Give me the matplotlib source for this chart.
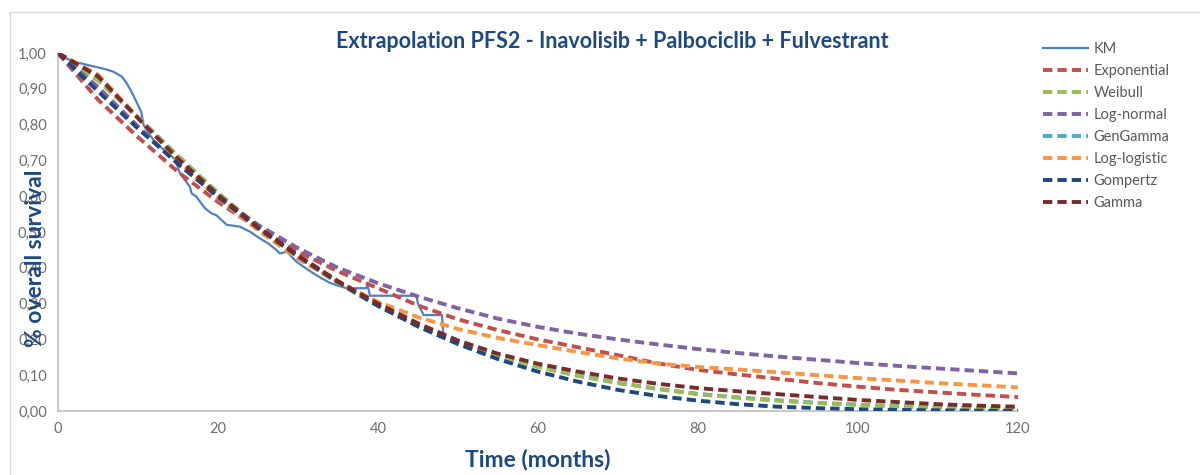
import matplotlib.pyplot as plt
from matplotlib.lines import Line2D
from matplotlib.ticker import FuncFormatter

plt.rcParams['font.family'] = ['Lato', 'DejaVu Sans']

# Kaplan-Meier estimate (months, survival)
km_t = [0, 0.5, 2, 3.8, 4.6, 5.9, 6.9, 8.0, 8.6, 9.2, 9.8, 10.4, 10.7, 11.5, 12.1,
        13.0, 14.0, 14.6, 15.25, 16.5, 16.7, 17.3, 17.75, 18.4, 19.2, 19.8, 21.1,
        22.75, 24, 25.25, 26.3, 27.3, 27.75, 28.6, 29.8, 30.7, 31.9, 33, 34, 35,
        36.1, 37.3, 38.5, 38.7, 39.0, 44.8, 45.0, 45.7, 48.0, 48.2]
km_s = [1.0, 0.99, 0.976, 0.966, 0.962, 0.955, 0.948, 0.934, 0.915, 0.892, 0.864,
        0.836, 0.799, 0.771, 0.752, 0.734, 0.715, 0.704, 0.664, 0.626, 0.608, 0.599,
        0.585, 0.566, 0.552, 0.547, 0.520, 0.515, 0.501, 0.482, 0.468, 0.450, 0.440,
        0.445, 0.417, 0.403, 0.385, 0.370, 0.358, 0.350, 0.343, 0.343, 0.343, 0.352,
        0.322, 0.322, 0.300, 0.268, 0.268, 0.205]

# parametric extrapolations, every 5 months from 0 to 120
months = list(range(0, 121, 5))
exponential = [1.0, 0.87, 0.765, 0.668, 0.584, 0.51, 0.445, 0.39, 0.343, 0.295, 0.256,
               0.226, 0.200, 0.178, 0.156, 0.133, 0.115, 0.102, 0.090, 0.078, 0.068,
               0.059, 0.052, 0.045, 0.039]
weibull = [1.0, 0.923, 0.82, 0.712, 0.609, 0.515, 0.43, 0.357, 0.293, 0.239, 0.193,
           0.155, 0.123, 0.098, 0.078, 0.061, 0.047, 0.037, 0.029, 0.022, 0.017,
           0.013, 0.0099, 0.0075, 0.0056]
lognormal = [1.0, 0.905, 0.795, 0.69, 0.60, 0.52, 0.455, 0.40, 0.357, 0.32, 0.287,
             0.258, 0.235, 0.216, 0.200, 0.186, 0.173, 0.162, 0.152, 0.143, 0.134,
             0.126, 0.119, 0.112, 0.105]
gengamma = [1.0, 0.924, 0.821, 0.713, 0.609, 0.515, 0.431, 0.358, 0.294, 0.240, 0.194,
            0.156, 0.124, 0.099, 0.079, 0.062, 0.048, 0.038, 0.030, 0.023, 0.018,
            0.014, 0.0105, 0.008, 0.006]
loglogistic = [1.0, 0.94, 0.82, 0.70, 0.595, 0.505, 0.425, 0.36, 0.305, 0.262, 0.229,
               0.204, 0.184, 0.165, 0.147, 0.133, 0.123, 0.116, 0.108, 0.100, 0.092,
               0.085, 0.078, 0.072, 0.066]
gompertz = [1.0, 0.893, 0.789, 0.691, 0.598, 0.511, 0.432, 0.36, 0.294, 0.236, 0.187,
            0.145, 0.110, 0.082, 0.059, 0.042, 0.029, 0.019, 0.012, 0.008, 0.005,
            0.003, 0.002, 0.001, 0.0005]
gamma = [1.0, 0.935, 0.818, 0.705, 0.604, 0.514, 0.435, 0.363, 0.300, 0.245, 0.197,
         0.160, 0.132, 0.110, 0.091, 0.076, 0.064, 0.055, 0.047, 0.039, 0.031,
         0.025, 0.019, 0.015, 0.012]

# name, values, colour, zorder (GenGamma sits underneath Weibull)
models = [('Exponential', exponential, '#C0504D', 3),
          ('Weibull', weibull, '#9BBB59', 3),
          ('Log-normal', lognormal, '#8064A2', 3),
          ('GenGamma', gengamma, '#4BACC6', 2.5),
          ('Log-logistic', loglogistic, '#F79646', 3),
          ('Gompertz', gompertz, '#1F497D', 3),
          ('Gamma', gamma, '#772C2A', 3)]

fig = plt.figure(figsize=(12, 4.75), dpi=100)
ax = fig.add_axes([0.0483, 0.1347, 0.80, 0.7537])

ax.plot(km_t, km_s, color='#4F81BD', lw=1.6, label='KM', zorder=2.2)
for name, vals, col, z in models:
    ax.plot(months, vals, color=col, lw=2.8, dashes=(2.4, 1.3),
            dash_capstyle='butt', label=name, zorder=z)

ax.set_xlim(0, 120)
ax.set_ylim(0, 1)
ax.set_xticks(range(0, 121, 20))
ax.set_yticks([i / 10 for i in range(11)])
ax.yaxis.set_major_formatter(FuncFormatter(lambda v, p: f'{v:.2f}'.replace('.', ',')))
ax.tick_params(length=0, labelsize=10.5, labelcolor='#6F6F6F', pad=8)
for side in ['top', 'right']:
    ax.spines[side].set_visible(False)
for side in ['left', 'bottom']:
    ax.spines[side].set_color('#BFBFBF')
    ax.spines[side].set_linewidth(1.2)

fig.text(0.51, 0.912, 'Extrapolation PFS2 - Inavolisib + Palbociclib + Fulvestrant',
         ha='center', va='center', fontsize=15.5, fontweight='bold', color='#1F497D')
ax.set_xlabel('Time (months)', fontsize=16.5, fontweight='bold', color='#1F497D',
              labelpad=9)
fig.text(0.03, 0.457, '% overall survival', rotation=90, ha='center', va='center',
         fontsize=16.5, fontweight='bold', color='#1F497D')

ax.legend(loc='upper left', bbox_to_anchor=(1.012, 1.068), frameon=False,
          fontsize=10.5, labelcolor='#595959', handlelength=3.1,
          handletextpad=0.4, labelspacing=0.55)

# chart frame
fig.add_artist(Line2D([10 / 1200, 1], [1 - 12 / 475, 1 - 12 / 475],
                      color='#D9D9D9', lw=1))
fig.add_artist(Line2D([10 / 1200, 10 / 1200], [0, 1 - 12 / 475],
                      color='#D9D9D9', lw=1))

fig.savefig('out.png', dpi=100)
